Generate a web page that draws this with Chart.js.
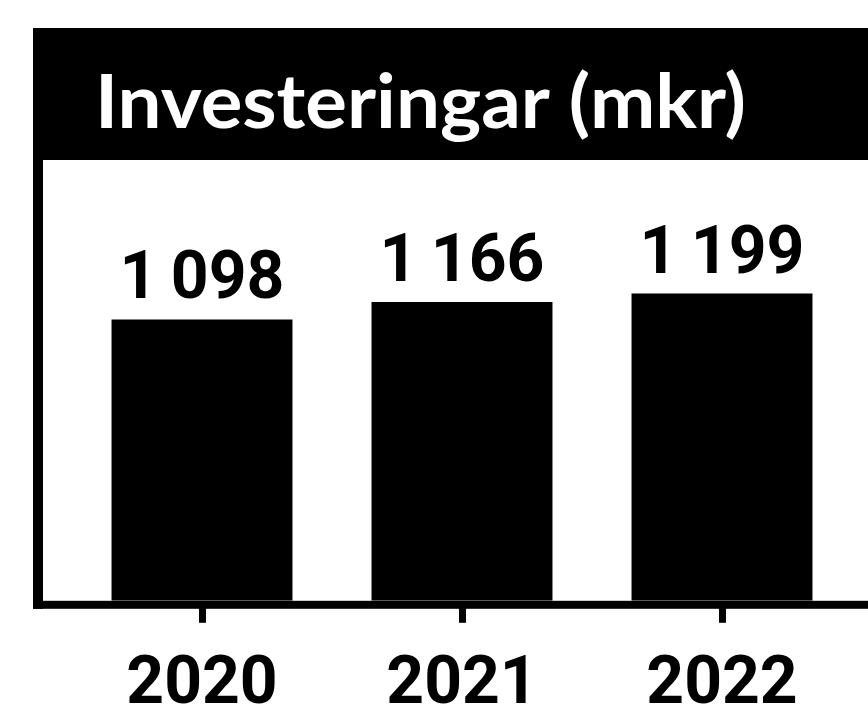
<!DOCTYPE html>
<html>
<head>
<meta charset="utf-8">
<script src="https://cdn.jsdelivr.net/npm/chart.js@4.4.0/dist/chart.umd.min.js"></script>
<style>
  html, body { margin: 0; padding: 0; background: #fff; }
  #wrap { width: 868px; height: 720px; }
</style>
</head>
<body>
<div id="wrap"><canvas id="invest" width="868" height="720"></canvas></div>
<script>
const title = "Investeringar (mkr)";
const years = ["2020", "2021", "2022"];
const investments = [1098, 1166, 1199];

// black header band, left frame and base line, plus title and value labels
const frame = {
  id: "frame",
  beforeDraw(chart) {
    const ctx = chart.ctx;
    const area = chart.chartArea;
    ctx.save();
    ctx.fillStyle = "#fff";
    ctx.fillRect(0, 0, chart.width, chart.height);
    ctx.fillStyle = "#000";
    ctx.fillRect(34, 28, chart.width - 34, area.top - 28);
    ctx.fillRect(33, 28, 10, area.bottom + 8 - 28);
    ctx.fillRect(33, area.bottom, chart.width - 33, 8);

    ctx.fillStyle = "#fff";
    ctx.font = "bold 74px Lato";
    ctx.textBaseline = "alphabetic";
    const w = ctx.measureText(title).width;
    ctx.translate(95, 128);
    ctx.scale(651 / w, 1);
    ctx.fillText(title, 0, 0);
    ctx.restore();
  },
  afterDatasetsDraw(chart) {
    const ctx = chart.ctx;
    const meta = chart.getDatasetMeta(0);
    ctx.save();
    ctx.fillStyle = "#000";
    ctx.font = "bold 66px Roboto";
    ctx.textAlign = "center";
    ctx.textBaseline = "alphabetic";
    meta.data.forEach((bar, i) => {
      const txt = investments[i].toLocaleString("sv-SE").replace(/\s/g, "\u2009");
      ctx.fillText(txt, bar.x, bar.y - 21);
    });
    ctx.restore();
  },
};

new Chart(document.getElementById("invest"), {
  type: "bar",
  data: {
    labels: years,
    datasets: [
      {
        data: investments,
        backgroundColor: "#000",
        barPercentage: 0.696,
        categoryPercentage: 1,
      },
    ],
  },
  options: {
    responsive: false,
    animation: false,
    layout: {
      padding: { left: 72, right: 16, top: 160, bottom: -30 },
    },
    plugins: {
      legend: { display: false },
      tooltip: { enabled: false },
    },
    scales: {
      x: {
        border: { display: false },
        grid: {
          offset: false,
          drawOnChartArea: false,
          color: "#000",
          tickLength: 22,
          tickWidth: 7,
        },
        ticks: {
          color: "#000",
          padding: 24,
          font: { family: "Roboto", size: 66, weight: "bold" },
        },
      },
      y: {
        display: false,
        min: 0,
        max: 1720,
      },
    },
  },
  plugins: [frame],
});
</script>
</body>
</html>
